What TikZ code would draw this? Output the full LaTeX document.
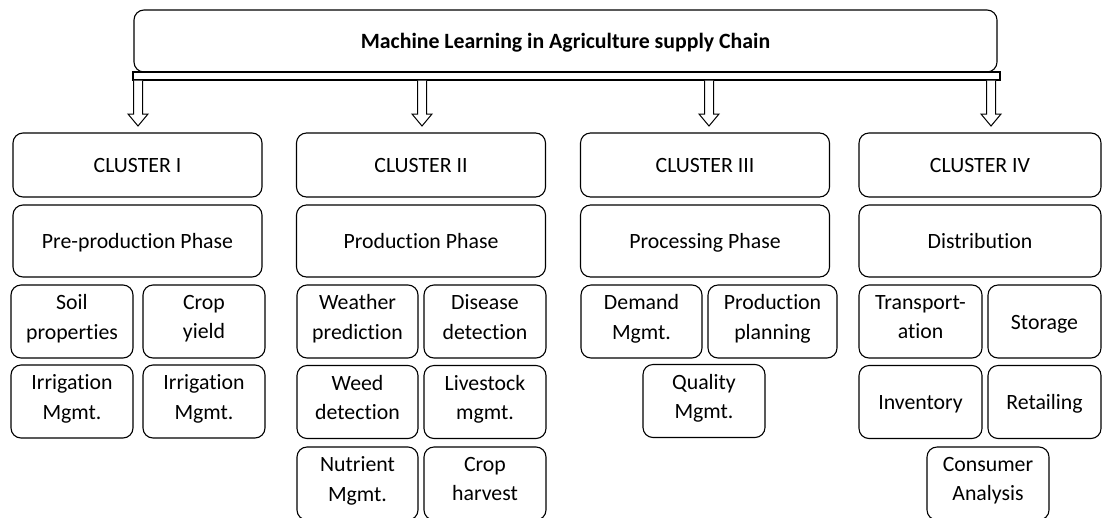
\documentclass[tikz,border=0pt]{standalone}
\usepackage{fontspec}
\setmainfont{Carlito}[Ligatures=NoCommon]
\usetikzlibrary{calc}

% hollow block arrow from the bar down to a tip coordinate
\newcommand{\hollowarrow}[1]{%
  \draw [line width=1pt, fill=white]
    ($(#1 |- bar.south)+(-4.5,0)$) -- ($(#1)+(-4.5,-12)$) -- ($(#1)+(-10,-12)$) -- (#1)
    -- ($(#1)+(10,-12)$) -- ($(#1)+(4.5,-12)$) -- ($(#1 |- bar.south)+(4.5,0)$);
}

\begin{document}
\begin{tikzpicture}[x=1pt, y=-1pt,
    box/.style = {draw, line width=1.1pt, rounded corners=10pt, inner sep=0pt,
                  align=center, font=\fontsize{21.8}{29.5}\selectfont,
                  execute at begin node={\rule{0pt}{24.5pt}},
                  execute at end node={\rule[-9pt]{0pt}{9pt}}},
    titlebox/.style = {box, minimum width=863pt, minimum height=62pt},
    cluster/.style = {box, minimum width=249pt, minimum height=64pt},
    phase/.style = {box, minimum width=249pt, minimum height=72pt},
    item/.style = {box, minimum width=122pt, minimum height=73pt}]
    \useasboundingbox (0,0) rectangle (1102,517);

    \node (title) [titlebox] at (565.5,41) {\textbf{Machine Learning in Agriculture supply Chain}};
    \node (bar) [draw, line width=1.1pt, inner sep=0pt, minimum width=867pt, minimum height=8pt] at (566.5,76) {};

    \coordinate (a1) at (138,126);
    \coordinate (a2) at (422,126);
    \coordinate (a3) at (709,126);
    \coordinate (a4) at (991,126);
    \foreach \a in {a1,a2,a3,a4}
      \hollowarrow{\a};

    % clusters
    \node (c1) [cluster] at (137.5,165) {CLUSTER I};
    \node (c2) [cluster] at (421,165) {CLUSTER II};
    \node (c3) [cluster] at (705,165) {CLUSTER III};
    \node (c4) [cluster, minimum width=242pt] at (980,165) {CLUSTER IV};

    % phases
    \node (p1) [phase] at (137.5,241) {Pre-production Phase};
    \node (p2) [phase] at (421,241) {Production Phase};
    \node (p3) [phase] at (705,241) {Processing Phase};
    \node (p4) [phase, minimum width=242pt] at (980,241) {Distribution};

    % cluster I
    \node (soil) [item] at (72,321.5) {Soil\\properties};
    \node (yield) [item] at (204,321.5) {Crop\\yield};
    \node (irrA) [item] at (72,401.5) {Irrigation\\Mgmt.};
    \node (irrB) [item] at (204,401.5) {Irrigation\\Mgmt.};

    % cluster II
    \node (weather) [item, minimum width=121pt] at (357.5,321.5) {Weather\\prediction};
    \node (disease) [item] at (485,321.5) {Disease\\detection};
    \node (weed) [item, minimum width=121pt] at (357.5,402) {Weed\\detection};
    \node (livestock) [item] at (485,402) {Livestock\\mgmt.};
    \node (nutrient) [item, minimum width=121pt] at (357.5,483.5) {Nutrient\\Mgmt.};
    \node (harvest) [item] at (485,483.5) {Crop\\harvest};

    % cluster III
    \node (demand) [item, minimum width=121pt] at (641.5,321.5) {Demand\\Mgmt.};
    \node (planning) [item, minimum width=129pt] at (772.5,321.5) {Production\\planning};
    \node (quality) [item] at (704,401) {Quality\\Mgmt.};

    % cluster IV
    \node (transport) [item, minimum width=123pt] at (920.5,321.5) {Transport-\\ation};
    \node (storage) [item, minimum width=113pt] at (1044.5,321.5) {Storage};
    \node (inventory) [item, minimum width=123pt] at (920.5,402) {Inventory};
    \node (retail) [item, minimum width=113pt] at (1044.5,402) {Retailing};
    \node (consumer) [item] at (988,483.5) {Consumer\\Analysis};
\end{tikzpicture}
\end{document}
